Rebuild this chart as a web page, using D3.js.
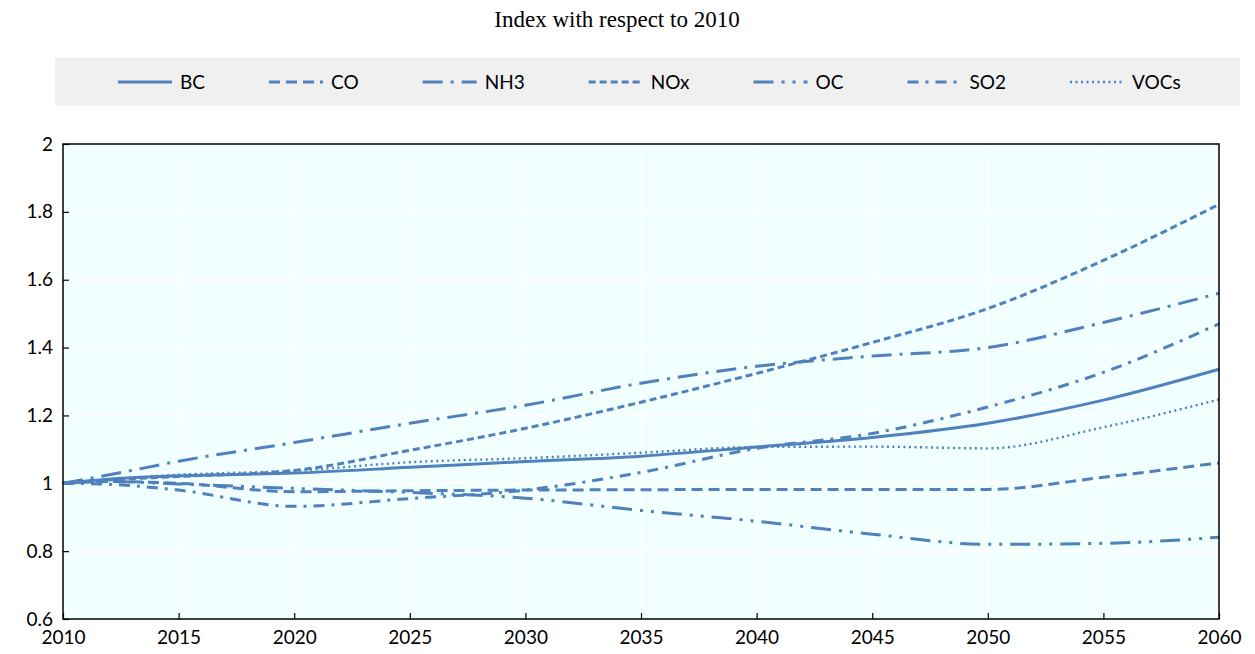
<!DOCTYPE html>
<html>
<head>
<meta charset="utf-8">
<script src="https://cdn.jsdelivr.net/npm/d3@7"></script>
<style>
  body { margin: 0; background: #fff; }
  svg text { font-family: Lato, "Open Sans", sans-serif; }
</style>
</head>
<body>
<div id="chart"></div>
<script>
// data (index, 2010 = 1)
var years = [2010, 2012, 2015, 2020, 2025, 2030, 2035, 2040, 2045, 2050, 2055, 2060];
var bc   = [1, 1.012, 1.022, 1.030, 1.047, 1.064, 1.080, 1.107, 1.135, 1.177, 1.245, 1.336];
var co   = [1, 1.005, 1.000, 0.975, 0.978, 0.980, 0.981, 0.982, 0.982, 0.982, 1.018, 1.060];
var nh3  = [1, 1.025, 1.065, 1.120, 1.177, 1.230, 1.295, 1.345, 1.375, 1.400, 1.474, 1.560];
var nox  = [1, 1.010, 1.020, 1.038, 1.097, 1.162, 1.239, 1.324, 1.415, 1.515, 1.657, 1.822];
var oc   = [1, 1.005, 0.998, 0.985, 0.973, 0.956, 0.920, 0.888, 0.850, 0.820, 0.823, 0.841];
var so2  = [1, 0.997, 0.980, 0.932, 0.955, 0.980, 1.032, 1.103, 1.147, 1.225, 1.327, 1.470];
var vocs = [1, 1.012, 1.025, 1.037, 1.062, 1.074, 1.090, 1.107, 1.108, 1.103, 1.165, 1.247];

var names = ["BC", "CO", "NH3", "NOx", "OC", "SO2", "VOCs"];
var values = [bc, co, nh3, nox, oc, so2, vocs];
var dashes = ["none", "11,6", "20,8,3,8", "7,4", "20,8,3,8,3,8", "11,7,3,7", "2,3.5"];
var widths = [3, 3, 3, 3, 3, 3, 2.4];

var xTicks = [2010, 2015, 2020, 2025, 2030, 2035, 2040, 2045, 2050, 2055, 2060];
var yTicks = [0.6, 0.8, 1, 1.2, 1.4, 1.6, 1.8, 2];

var W = 1255, H = 654;
var margin = {top: 144, right: 36, bottom: 35, left: 63},
    width = W - margin.left - margin.right,
    height = H - margin.top - margin.bottom;
var color = "#4f81bd";

var svg = d3.select("#chart").append("svg")
    .attr("width", W)
    .attr("height", H);

// title
svg.append("text")
  .attr("x", 617).attr("y", 27)
  .attr("text-anchor", "middle")
  .style("font-family", "'Liberation Serif', 'Times New Roman', serif")
  .style("font-size", "23px")
  .text("Index with respect to 2010");

// legend
var leg = svg.append("g");
leg.append("rect")
  .attr("x", 55).attr("y", 58).attr("width", 1185).attr("height", 48)
  .attr("fill", "#f0f0f0");

var lx = 118;
names.forEach(function(n, i) {
  var g = leg.append("g").attr("transform", "translate(" + lx + ",82)");
  g.append("line")
    .attr("x1", 0).attr("x2", 54).attr("y1", 0).attr("y2", 0)
    .attr("stroke", color).attr("stroke-width", widths[i])
    .attr("stroke-dasharray", dashes[i]);
  var t = g.append("text")
    .attr("x", 62).attr("y", 7)
    .style("font-size", "19px")
    .text(n);
  lx += 62 + t.node().getComputedTextLength() + 64;
});

var plot = svg.append("g")
    .attr("transform", "translate(" + margin.left + "," + margin.top + ")");

var x = d3.scaleLinear().domain([2010, 2060]).range([0, width]);
var y = d3.scaleLinear().domain([0.6, 2]).range([height, 0]);

plot.append("rect")
  .attr("width", width).attr("height", height)
  .attr("fill", "#f2ffff");

// white grid
plot.append("g").selectAll("line.gx").data(xTicks).enter().append("line")
  .attr("x1", function(d) { return x(d); }).attr("x2", function(d) { return x(d); })
  .attr("y1", 0).attr("y2", height)
  .attr("stroke", "#ffffff").attr("stroke-width", 1.5);
plot.append("g").selectAll("line.gy").data(yTicks).enter().append("line")
  .attr("x1", 0).attr("x2", width)
  .attr("y1", function(d) { return y(d); }).attr("y2", function(d) { return y(d); })
  .attr("stroke", "#ffffff").attr("stroke-width", 1.5);

// axes
var xAxis = plot.append("g")
  .attr("transform", "translate(0," + height + ")")
  .call(d3.axisBottom(x).tickValues(xTicks).tickFormat(d3.format("d")).tickSize(-6).tickPadding(14));
var yAxis = plot.append("g")
  .call(d3.axisLeft(y).tickValues(yTicks).tickFormat(function(d) { return d3.format("")(+d.toFixed(1)); }).tickSize(-6).tickPadding(10));
[xAxis, yAxis].forEach(function(a) {
  a.select(".domain").remove();
  a.selectAll(".tick line").attr("stroke", "#000").attr("stroke-width", 1.2);
  a.selectAll(".tick text").style("font-family", "Lato, sans-serif").style("font-size", "19px").attr("fill", "#000");
});
xAxis.selectAll(".tick text").attr("dy", "0.6em");

// lines
var line = d3.line()
  .x(function(d, i) { return x(years[i]); })
  .y(function(d) { return y(d); })
  .curve(d3.curveMonotoneX);

plot.append("g").selectAll("path").data(values).enter().append("path")
  .attr("d", line)
  .attr("fill", "none")
  .attr("stroke", color)
  .attr("stroke-width", function(d, i) { return widths[i]; })
  .attr("stroke-dasharray", function(d, i) { return dashes[i]; });

// frame
plot.append("rect")
  .attr("width", width).attr("height", height)
  .attr("fill", "none").attr("stroke", "#000").attr("stroke-width", 1.5);
</script>
</body>
</html>
